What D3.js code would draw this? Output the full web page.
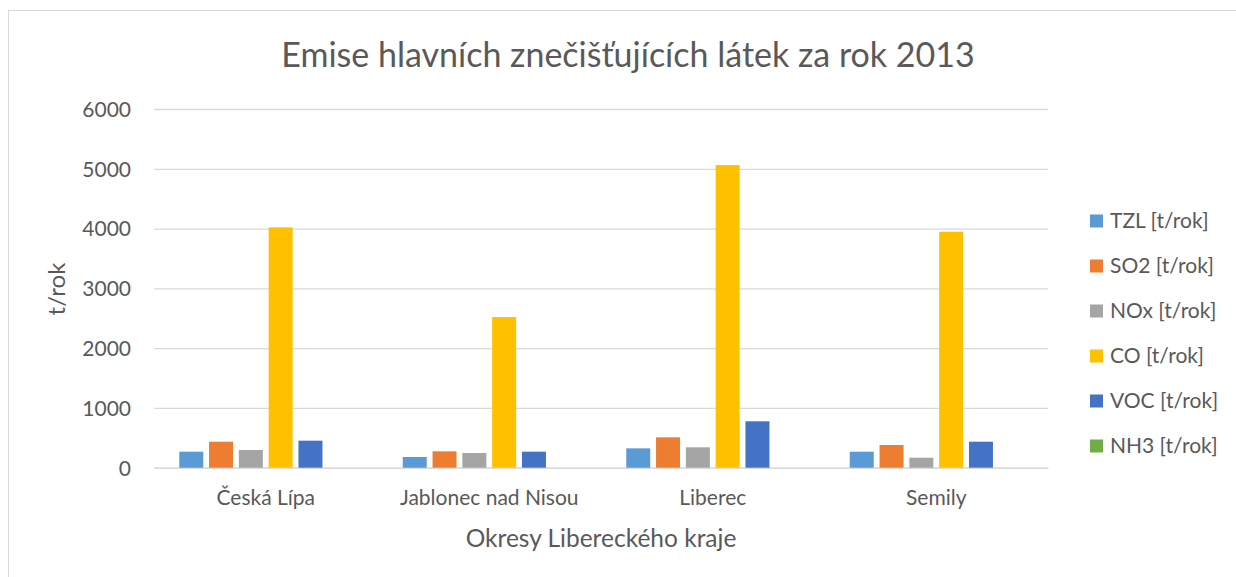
<!DOCTYPE html>
<html>
<head>
<meta charset="utf-8">
<script src="https://cdn.jsdelivr.net/npm/d3@7"></script>
<style>
  body { margin: 0; background: #fff; }
  text { font-family: Lato, "Open Sans", sans-serif; fill: #595959; }
</style>
</head>
<body>
<script>
let w = 1236;
let h = 577;

// data
let okresy = ["Česká Lípa", "Jablonec nad Nisou", "Liberec", "Semily"];
let latky = ["TZL [t/rok]", "SO2 [t/rok]", "NOx [t/rok]", "CO [t/rok]", "VOC [t/rok]", "NH3 [t/rok]"];
let tzl = [268, 179, 324, 268];
let so2 = [435, 274, 508, 380];
let nox = [296, 246, 341, 167];
let co = [4020, 2520, 5062, 3947];
let voc = [452, 268, 776, 435];
let nh3 = [0, 0, 0, 0];
let yTicks = [0, 1000, 2000, 3000, 4000, 5000, 6000];
let barvy = ["#5B9BD5", "#ED7D31", "#A5A5A5", "#FFC000", "#4472C4", "#70AD47"];

let serie = [tzl, so2, nox, co, voc, nh3];

let svg = d3.select("body").append("svg").attr("width", w).attr("height", h);

// chart border
svg
  .append("rect")
  .attr("x", 8.5)
  .attr("y", 10.5)
  .attr("width", w)
  .attr("height", h)
  .attr("fill", "none")
  .attr("stroke", "#d9d9d9");

svg
  .append("text")
  .attr("x", 628)
  .attr("y", 67)
  .attr("text-anchor", "middle")
  .style("font-size", "34px")
  .text("Emise hlavních znečišťujících látek za rok 2013");

let pLeft = 154, pRight = 1048, pTop = 109, pBottom = 467.7;

let x0 = d3.scaleBand().domain(okresy).range([pLeft, pRight]).paddingInner(0.226).paddingOuter(0.113);
let x1 = d3.scaleBand().domain(latky).range([0, x0.bandwidth()]).paddingInner(0.195);
let y = d3.scaleLinear().domain([0, 6000]).range([pBottom, pTop]);

// gridlines
let yAxis = d3.axisLeft(y).tickValues(yTicks).tickSize(-(pRight - pLeft)).tickFormat(d3.format("d"));
let gy = svg.append("g").attr("transform", "translate(" + pLeft + ",0)").call(yAxis);
gy.select(".domain").remove();
gy.selectAll(".tick line").attr("stroke", "#d9d9d9").attr("stroke-width", 1.3);
gy.selectAll(".tick text")
  .attr("x", -23)
  .attr("dy", "0.35em")
  .style("font-size", "21px")
  .style("fill", "#595959");

let xAxis = d3.axisBottom(x0).tickSize(0);
let gx = svg.append("g").attr("transform", "translate(0," + pBottom + ")").call(xAxis);
gx.select(".domain").attr("stroke", "#d9d9d9").attr("stroke-width", 1.3);
gx.selectAll(".tick text")
  .attr("y", 30)
  .attr("dy", "0.35em")
  .style("font-size", "21px")
  .style("fill", "#595959");

// bars
serie.forEach((vals, i) => {
  svg
    .append("g")
    .selectAll("rect")
    .data(vals)
    .enter()
    .append("rect")
    .attr("x", (d, j) => x0(okresy[j]) + x1(latky[i]))
    .attr("y", (d) => y(d))
    .attr("width", x1.bandwidth())
    .attr("height", (d) => pBottom - y(d))
    .attr("fill", barvy[i]);
});

// axis titles
svg
  .append("text")
  .attr("x", 601)
  .attr("y", 538)
  .attr("dy", "0.35em")
  .attr("text-anchor", "middle")
  .style("font-size", "24.5px")
  .text("Okresy Libereckého kraje");

svg
  .append("text")
  .attr("transform", "translate(57,289) rotate(-90)")
  .attr("dy", "0.35em")
  .attr("text-anchor", "middle")
  .style("font-size", "24px")
  .text("t/rok");

// legend
let legend = svg
  .selectAll(".leg")
  .data(latky)
  .enter()
  .append("g")
  .attr("class", "leg")
  .attr("transform", (d, i) => "translate(1090," + (221 + i * 45) + ")");

legend
  .append("rect")
  .attr("x", 0)
  .attr("y", -6.5)
  .attr("width", 13)
  .attr("height", 13)
  .attr("fill", (d, i) => barvy[i]);

legend
  .append("text")
  .attr("x", 20)
  .attr("dy", "0.35em")
  .style("font-size", "21px")
  .text((d) => d);
</script>
</body>
</html>
